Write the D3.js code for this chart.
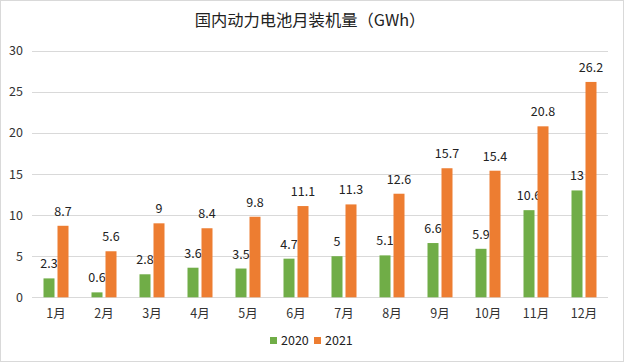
<!DOCTYPE html>
<html>
<head>
<meta charset="utf-8">
<script src="https://cdn.jsdelivr.net/npm/d3@7"></script>
<style>
  body { margin: 0; background: #fff; }
  text { font-family: "Microsoft YaHei", "Noto Sans CJK SC", sans-serif; }
</style>
</head>
<body>
<div id="svg_container"></div>
<script>
// Our data
const months = ["1月", "2月", "3月", "4月", "5月", "6月", "7月", "8月", "9月", "10月", "11月", "12月"];
const values2020 = [2.3, 0.6, 2.8, 3.6, 3.5, 4.7, 5, 5.1, 6.6, 5.9, 10.6, 13];
const values2021 = [8.7, 5.6, 9, 8.4, 9.8, 11.1, 11.3, 12.6, 15.7, 15.4, 20.8, 26.2];
const yTicks = [0, 5, 10, 15, 20, 25, 30];
const seriesNames = ["2020", "2021"];
const colors = ["#70ad47", "#ed7d31"];

function createChart() {
    let width = 624;
    let height = 362;
    const svg = d3.select('#svg_container').append("svg")
        .attr("width", width)
        .attr("height", height);

    svg.append("rect")
        .attr("x", 0.5).attr("y", 0.5)
        .attr("width", width - 1).attr("height", height - 1)
        .attr("fill", "#fff")
        .attr("stroke", "#d9d9d9");

    svg.append("text")
        .attr("x", 310).attr("y", 26)
        .attr("text-anchor", "middle")
        .attr("font-size", 16.3)
        .attr("fill", "#222")
        .text("国内动力电池月装机量（GWh）");

    const x = d3.scaleBand().domain(months).range([32, 608]);
    const y = d3.scaleLinear().domain([0, 30]).range([297.3, 50.7]);

    // gridlines
    svg.append("g")
        .selectAll("line")
        .data(yTicks)
        .join("line")
        .attr("x1", 32).attr("x2", 608)
        .attr("y1", d => Math.round(y(d)) + 0.5)
        .attr("y2", d => Math.round(y(d)) + 0.5)
        .attr("stroke", "#d9d9d9");

    svg.append("g")
        .selectAll("text")
        .data(yTicks)
        .join("text")
        .attr("x", 23)
        .attr("y", d => y(d) + 4.5)
        .attr("text-anchor", "end")
        .attr("font-size", 12.5)
        .attr("fill", "#333")
        .text(d => d);

    // month labels
    svg.append("g")
        .selectAll("text")
        .data(months)
        .join("text")
        .attr("x", d => x(d) + x.bandwidth() / 2)
        .attr("y", 318)
        .attr("text-anchor", "middle")
        .attr("font-size", 12.5)
        .attr("fill", "#333")
        .text(d => d);

    const barW = 11, gap = 3;
    const series = [values2020, values2021];

    series.forEach((vals, s) => {
        const offset = s === 0 ? -(barW + gap / 2) : gap / 2;
        const g = svg.append("g");
        g.selectAll("rect")
            .data(vals)
            .join("rect")
            .attr("x", (d, i) => x(months[i]) + x.bandwidth() / 2 + offset)
            .attr("y", d => y(d))
            .attr("width", barW)
            .attr("height", d => y(0) - y(d))
            .attr("fill", colors[s]);

        g.selectAll("text")
            .data(vals)
            .join("text")
            .attr("x", (d, i) => x(months[i]) + x.bandwidth() / 2 + offset + barW / 2)
            .attr("y", d => y(d) - 10)
            .attr("text-anchor", "middle")
            .attr("font-size", 12.5)
            .attr("fill", "#222")
            .text(d => d);
    });

    // legend
    const legend = svg.append("g").attr("transform", "translate(270,341)");
    seriesNames.forEach((name, i) => {
        const lx = i * 44;
        legend.append("rect")
            .attr("x", lx).attr("y", -4)
            .attr("width", 7).attr("height", 7)
            .attr("fill", colors[i]);
        legend.append("text")
            .attr("x", lx + 11).attr("y", 4)
            .attr("font-size", 12.5)
            .attr("fill", "#222")
            .text(name);
    });
}

document.addEventListener('DOMContentLoaded', function (e) {
    createChart();
});
</script>
</body>
</html>
